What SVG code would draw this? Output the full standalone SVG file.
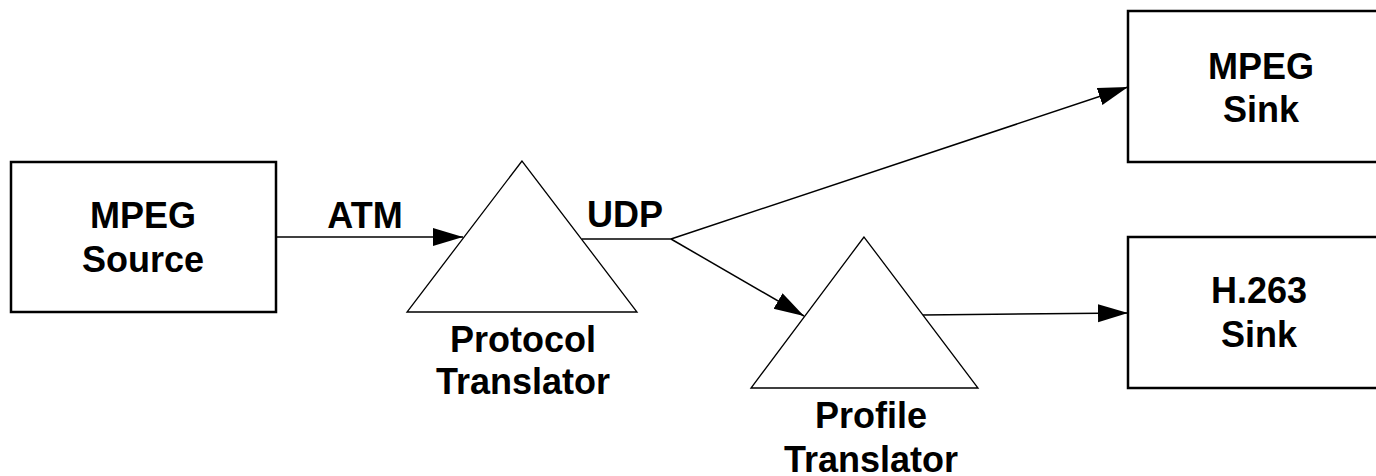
<svg xmlns="http://www.w3.org/2000/svg" width="1376" height="476" viewBox="0 0 1376 476">
  <defs>
    <style>
      .box { fill: #fff; stroke: #000; stroke-width: 2.5; }
      .tri { fill: #fff; stroke: #000; stroke-width: 1.3; stroke-linejoin: miter; }
      .lbl { font-family: "Liberation Sans", Arial, sans-serif; font-weight: bold; font-size: 36px; fill: #000; text-anchor: middle; }
      .wire { fill: none; stroke: #000; stroke-width: 1.5; }
    </style>
    <marker id="arrow" markerUnits="userSpaceOnUse" markerWidth="32" markerHeight="20" refX="30" refY="9" orient="auto">
      <path d="M0,0 L30,9 L0,18 Z" fill="#000"/>
    </marker>
  </defs>

  <g id="mpeg-source">
    <rect class="box" x="11" y="162" width="265" height="150"/>
    <text class="lbl" x="143" y="228">MPEG</text>
    <text class="lbl" x="143" y="272">Source</text>
  </g>

  <g id="protocol-translator">
    <polygon class="tri" points="522,161 407,312 637,312"/>
    <text class="lbl" x="523" y="352">Protocol</text>
    <text class="lbl" x="523" y="394">Translator</text>
  </g>

  <g id="profile-translator">
    <polygon class="tri" points="864,237 751,388 978,388"/>
    <text class="lbl" x="871" y="428">Profile</text>
    <text class="lbl" x="871" y="472">Translator</text>
  </g>

  <g id="mpeg-sink">
    <rect class="box" x="1128" y="11" width="260" height="151"/>
    <text class="lbl" x="1261" y="79">MPEG</text>
    <text class="lbl" x="1261" y="122">Sink</text>
  </g>

  <g id="h263-sink">
    <rect class="box" x="1128" y="237" width="260" height="151"/>
    <text class="lbl" x="1259" y="303">H.263</text>
    <text class="lbl" x="1259" y="347">Sink</text>
  </g>

  <g id="connectors">
    <line class="wire" x1="276" y1="237" x2="463" y2="237" stroke-width="2" marker-end="url(#arrow)"/>
    <text class="lbl" x="365" y="228">ATM</text>
    <polyline class="wire" points="582,239 671,239"/>
    <text class="lbl" x="625" y="227">UDP</text>
    <line class="wire" x1="671" y1="239" x2="1128" y2="87" marker-end="url(#arrow)"/>
    <line class="wire" x1="671" y1="239" x2="804" y2="316" marker-end="url(#arrow)"/>
    <line class="wire" x1="923" y1="315" x2="1128" y2="313" marker-end="url(#arrow)"/>
  </g>
</svg>
